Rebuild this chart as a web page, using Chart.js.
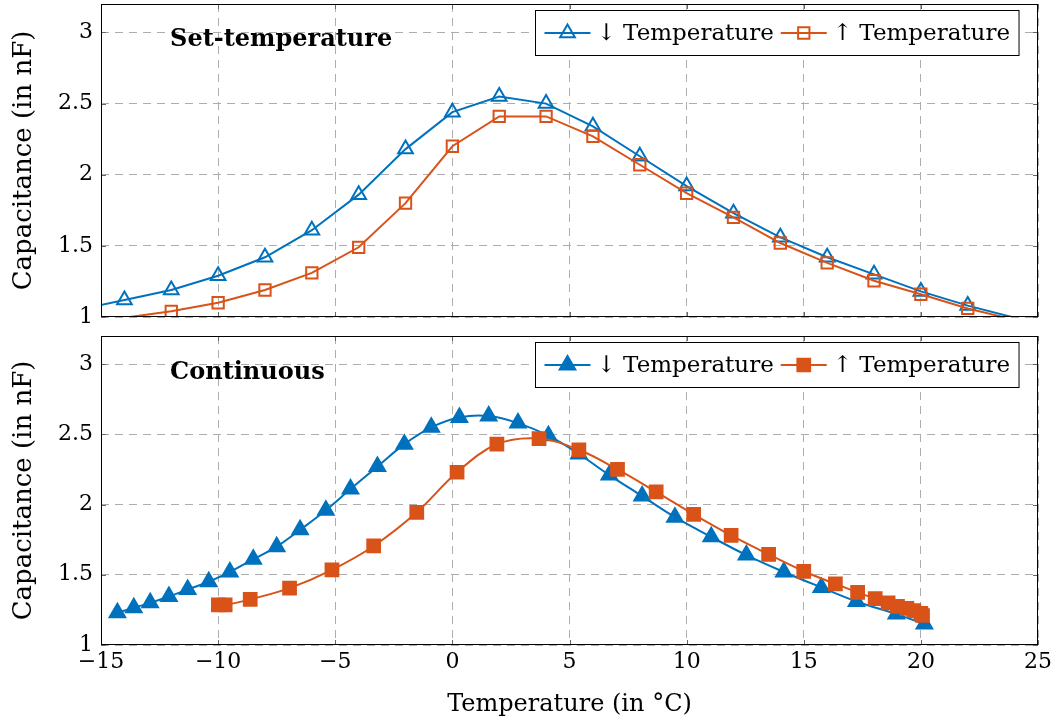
<!DOCTYPE html>
<html>
<head>
<meta charset="utf-8">
<script src="https://cdn.jsdelivr.net/npm/chart.js@4.4.1/dist/chart.umd.min.js"></script>
<style>
  html, body { margin: 0; padding: 0; background: #fff; }
  #wrap { position: relative; width: 1059px; height: 724px; }
  canvas { position: absolute; left: 0; }
  #set-chart { top: 0; }
  #cont-chart { top: 325px; }
</style>
</head>
<body>
<div id="wrap">
  <canvas id="set-chart" width="1059" height="325"></canvas>
  <canvas id="cont-chart" width="1059" height="399"></canvas>
</div>
<script>
// --- data ---
const xTicks = [-15, -10, -5, 0, 5, 10, 15, 20, 25]
const yTicks = [1, 1.5, 2, 2.5, 3]

// Set-temperature (steps of 2 °C)
const setTemp = [-16, -14, -12, -10, -8, -6, -4, -2, 0, 2, 4, 6, 8, 10, 12, 14, 16, 18, 20, 22, 24]
const setCapDown = [1.05, 1.12, 1.19, 1.29, 1.42, 1.61, 1.86, 2.18, 2.44, 2.55, 2.50, 2.34, 2.13, 1.92, 1.73, 1.56, 1.42, 1.30, 1.18, 1.08, 0.995]
const setCapUp = [0.94, 0.995, 1.04, 1.10, 1.19, 1.31, 1.49, 1.80, 2.20, 2.41, 2.41, 2.27, 2.07, 1.87, 1.70, 1.52, 1.38, 1.255, 1.16, 1.06, 0.98]

// Continuous sweep
const contTempDown = [-14.3, -13.6, -12.9, -12.1, -11.3, -10.4, -9.5, -8.5, -7.5, -6.5, -5.4, -4.35, -3.2, -2.05, -0.9, 0.3, 1.55, 2.8, 4.1, 5.4, 6.7, 8.1, 9.5, 11.05, 12.55, 14.15, 15.75, 17.25, 18.95, 20.15]
const contCapDown = [1.23, 1.265, 1.30, 1.345, 1.395, 1.45, 1.52, 1.61, 1.70, 1.82, 1.96, 2.11, 2.27, 2.43, 2.55, 2.62, 2.63, 2.58, 2.49, 2.36, 2.21, 2.06, 1.91, 1.77, 1.64, 1.52, 1.41, 1.31, 1.22, 1.15]
const contTempUp = [-9.99, -9.7, -8.63, -6.95, -5.14, -3.36, -1.52, 0.2, 1.9, 3.7, 5.4, 7.05, 8.7, 10.3, 11.9, 13.5, 15.0, 16.35, 17.3, 18.05, 18.6, 19.0, 19.4, 19.7, 20.0, 20.07]
const contCapUp = [1.285, 1.285, 1.325, 1.405, 1.535, 1.705, 1.945, 2.23, 2.43, 2.47, 2.39, 2.25, 2.09, 1.93, 1.78, 1.645, 1.525, 1.435, 1.375, 1.33, 1.30, 1.275, 1.26, 1.245, 1.225, 1.21]

const labelDown = '\u2193 Temperature'
const labelUp = '\u2191 Temperature'

const BLUE = '#0072BD'
const ORANGE = '#D95319'
const SERIF = "'DejaVu Serif', serif"
const X_MIN = -15, X_MAX = 25, Y_MIN = 1, Y_MAX = 3.2

const pts = (xs, ys) => xs.map((x, i) => ({ x, y: ys[i] }))
// hide markers that fall outside the plotted range
const inRange = (r) => (c) => {
  const p = c.raw
  return p && p.x >= X_MIN && p.x <= X_MAX && p.y >= Y_MIN && p.y <= Y_MAX ? r : 0
}
const fmtTick = v => v < 0 ? '\u2212' + Math.abs(v) : String(v)

function markPath(ctx, style, x, y, r) {
  ctx.beginPath()
  if (style === 'triangle') {
    const w = r * Math.sin(Math.PI * 2 / 3)
    ctx.moveTo(x, y - r)
    ctx.lineTo(x + w, y + r / 2)
    ctx.lineTo(x - w, y + r / 2)
    ctx.closePath()
  } else {
    const s = r * Math.SQRT1_2
    ctx.rect(x - s, y - s, 2 * s, 2 * s)
  }
}

// axis box + inward tick marks, pgfplots style
const framePlugin = {
  id: 'frame',
  afterDatasetsDraw(chart) {
    const { ctx, chartArea: a, scales: { x, y } } = chart
    ctx.save()
    ctx.setLineDash([])
    ctx.strokeStyle = '#666'
    ctx.lineWidth = 1
    ctx.beginPath()
    x.ticks.forEach(t => {
      const px = Math.round(x.getPixelForValue(t.value)) + 0.5
      ctx.moveTo(px, a.bottom); ctx.lineTo(px, a.bottom - 5)
      ctx.moveTo(px, a.top); ctx.lineTo(px, a.top + 5)
    })
    y.ticks.forEach(t => {
      const py = Math.round(y.getPixelForValue(t.value)) + 0.5
      ctx.moveTo(a.left, py); ctx.lineTo(a.left + 5, py)
      ctx.moveTo(a.right, py); ctx.lineTo(a.right - 5, py)
    })
    ctx.stroke()
    ctx.strokeStyle = '#000'
    ctx.strokeRect(Math.round(a.left) + 0.5, Math.round(a.top) + 0.5, Math.round(a.width) - 1, Math.round(a.height) - 1)
    ctx.restore()
  }
}

// legend box inside the top-right corner
const legendPlugin = {
  id: 'boxLegend',
  afterDraw(chart, args, opts) {
    const { ctx, chartArea: a } = chart
    ctx.save()
    ctx.font = opts.font
    const sample = 46, gap = 6, pad = 9, sep = 7, boxH = 45
    const items = chart.data.datasets.map(ds => ({ ds, w: ctx.measureText(ds.label).width }))
    const boxW = pad * 2 + items.reduce((s, it) => s + sample + gap + it.w, 0) + sep * (items.length - 1)
    const x0 = Math.round(a.right - 19 - boxW) + 0.5
    const y0 = Math.round(a.top + 6) + 0.5
    ctx.fillStyle = '#fff'
    ctx.fillRect(x0, y0, boxW, boxH)
    ctx.strokeStyle = '#000'
    ctx.lineWidth = 1
    ctx.strokeRect(x0, y0, boxW, boxH)
    const cy = y0 + boxH / 2
    let x = x0 + pad
    items.forEach(({ ds, w }) => {
      ctx.strokeStyle = ds.borderColor
      ctx.lineWidth = ds.borderWidth
      ctx.beginPath(); ctx.moveTo(x, cy); ctx.lineTo(x + sample, cy); ctx.stroke()
      markPath(ctx, ds.pointStyle, x + sample / 2, cy, ds.legendRadius)
      ctx.lineWidth = ds.pointBorderWidth
      if (ds.filled) { ctx.fillStyle = ds.borderColor; ctx.fill() }
      ctx.stroke()
      ctx.fillStyle = '#000'
      ctx.textBaseline = 'middle'
      ctx.textAlign = 'left'
      ctx.fillText(ds.label, x + sample + gap, cy + 1)
      x += sample + gap + w + sep
    })
    ctx.restore()
  }
}

// bold panel heading
const headingPlugin = {
  id: 'heading',
  afterDraw(chart, args, opts) {
    const { ctx, scales: { x, y } } = chart
    ctx.save()
    ctx.font = 'bold 24px ' + SERIF
    ctx.fillStyle = '#000'
    ctx.textBaseline = 'middle'
    ctx.fillText(opts.text, x.getPixelForValue(opts.at[0]), y.getPixelForValue(opts.at[1]))
    ctx.restore()
  }
}

function makeScales(showX, yWidth, xHeight) {
  const grid = { color: '#adadad', lineWidth: 1, drawTicks: false }
  const border = { display: false, dash: [8, 6] }
  return {
    x: {
      type: 'linear', min: X_MIN, max: X_MAX,
      grid, border,
      afterBuildTicks: s => { s.ticks = xTicks.map(v => ({ value: v })) },
      afterFit: s => { s.height = xHeight; s.paddingLeft = 0; s.paddingRight = 0 },
      ticks: { display: showX, color: '#000', padding: 4, font: { family: SERIF, size: 22 }, callback: fmtTick },
      title: { display: showX, text: 'Temperature (in \u00b0C)', color: '#000', padding: { top: 0, bottom: 5 }, font: { family: SERIF, size: 24 } }
    },
    y: {
      type: 'linear', min: Y_MIN, max: Y_MAX,
      grid, border,
      afterBuildTicks: s => { s.ticks = yTicks.map(v => ({ value: v })) },
      afterFit: s => { s.width = yWidth; s.paddingTop = 0; s.paddingBottom = 0 },
      ticks: { color: '#000', padding: 8, font: { family: SERIF, size: 22, lineHeight: 0.2 }, callback: v => String(v) },
      title: { display: true, text: 'Capacitance (in nF)', color: '#000', padding: { top: 9, bottom: 0 }, font: { family: SERIF, size: 26 } }
    }
  }
}

function series(label, data, color, style, filled, radius, tension, order) {
  return {
    label, data, order, filled, legendRadius: radius,
    borderColor: color, borderWidth: 2,
    backgroundColor: color,
    pointStyle: style,
    pointRadius: inRange(radius),
    pointBorderWidth: 2,
    pointBorderColor: color,
    pointBackgroundColor: filled ? color : 'rgba(255,255,255,0)',
    tension, clip: 0
  }
}

// nudge layout padding until the plot box sits where the figure has it
function pinArea(chart, pad, target) {
  for (let i = 0; i < 3; i++) {
    const a = chart.chartArea
    const dt = target.top - a.top, db = a.bottom - target.bottom, dr = a.right - target.right
    if (Math.abs(dt) < 0.5 && Math.abs(db) < 0.5 && Math.abs(dr) < 0.5) break
    pad.top += dt
    pad.bottom += db
    pad.right += dr
    chart.update()
  }
}

const setPad = { top: 4, right: 21, bottom: 0, left: 0 }
const setChart = new Chart(document.getElementById('set-chart'), {
  type: 'line',
  data: {
    datasets: [
      series(labelDown, pts(setTemp, setCapDown), BLUE, 'triangle', false, 8.5, 0, 2),
      series(labelUp, pts(setTemp, setCapUp), ORANGE, 'rect', false, 8, 0, 1)
    ]
  },
  options: {
    responsive: false, animation: false,
    layout: { padding: setPad },
    scales: makeScales(false, 101, 8),
    plugins: {
      legend: { display: false }, tooltip: { enabled: false },
      boxLegend: { font: '23px ' + SERIF },
      heading: { text: 'Set-temperature', at: [-12.05, 2.95] }
    }
  },
  plugins: [framePlugin, legendPlugin, headingPlugin]
})
pinArea(setChart, setPad, { top: 4, bottom: 317, right: 1038 })

const contPad = { top: 8, right: 21, bottom: 0, left: 0 }
const contChart = new Chart(document.getElementById('cont-chart'), {
  type: 'line',
  data: {
    datasets: [
      series(labelDown, pts(contTempDown, contCapDown), BLUE, 'triangle', true, 9, 0.35, 2),
      series(labelUp, pts(contTempUp, contCapUp), ORANGE, 'rect', true, 9, 0.35, 1)
    ]
  },
  options: {
    responsive: false, animation: false,
    layout: { padding: contPad },
    scales: makeScales(true, 101, 79),
    plugins: {
      legend: { display: false }, tooltip: { enabled: false },
      boxLegend: { font: '23px ' + SERIF },
      heading: { text: 'Continuous', at: [-12.05, 2.94] }
    }
  },
  plugins: [framePlugin, legendPlugin, headingPlugin]
})
pinArea(contChart, contPad, { top: 8, bottom: 320, right: 1038 })
</script>
</body>
</html>
